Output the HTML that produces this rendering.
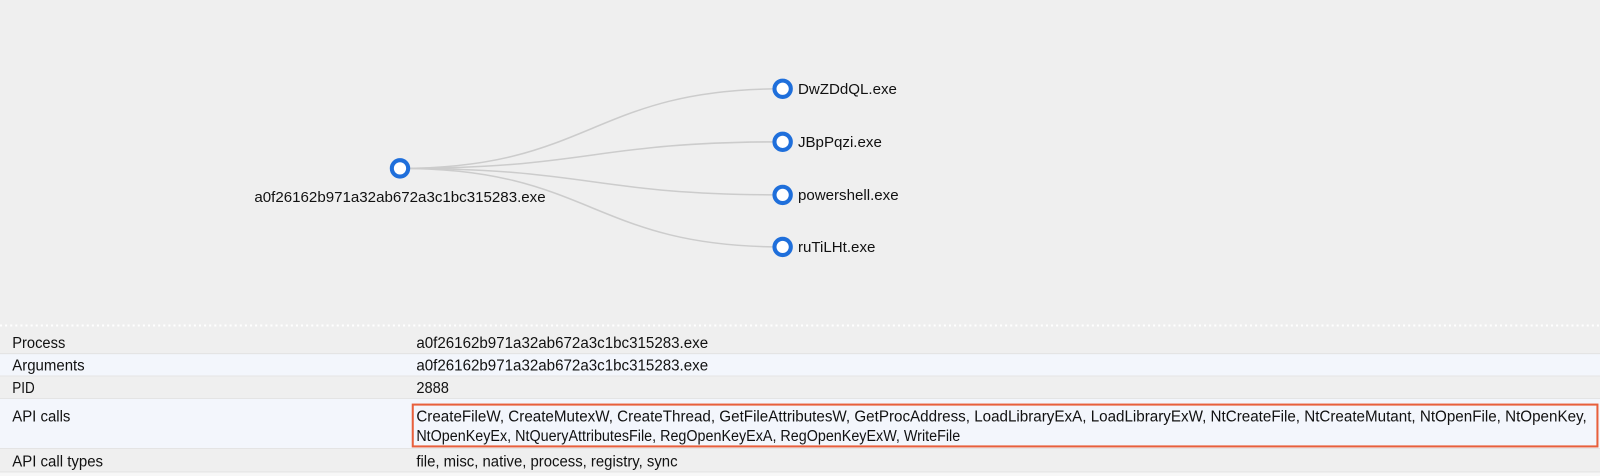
<!DOCTYPE html>
<html><head><meta charset="utf-8"><style>
html,body{margin:0;padding:0;background:#efefef;}
svg{display:block}
</style></head><body>
<svg width="1600" height="476" xmlns="http://www.w3.org/2000/svg" font-family="Liberation Sans, sans-serif">
<rect width="1600" height="476" fill="#efefef"/>
<g transform="scale(1.0204)">
<g fill="none" stroke="#cccccc" stroke-width="1.5">
<path d="M392 165 C580 165 580 87 767 87"/>
<path d="M392 165 C580 165 580 139 767 139"/>
<path d="M392 165 C580 165 580 191 767 191"/>
<path d="M392 165 C580 165 580 242 767 242"/>
</g>
<g fill="#fff" stroke="#1f6fdb" stroke-width="4">
<circle cx="392" cy="165" r="8"/>
<circle cx="767" cy="87" r="8"/>
<circle cx="767" cy="139" r="8"/>
<circle cx="767" cy="191" r="8"/>
<circle cx="767" cy="242" r="8"/>
</g>
<g font-size="14.8" fill="#111">
<text x="392" y="198" text-anchor="middle">a0f26162b971a32ab672a3c1bc315283.exe</text>
<text x="782" y="92">DwZDdQL.exe</text>
<text x="782" y="144">JBpPqzi.exe</text>
<text x="782" y="196">powershell.exe</text>
<text x="782" y="247">ruTiLHt.exe</text>
</g>
<line x1="0" y1="319" x2="1600" y2="319" stroke="#fff" stroke-width="2" stroke-dasharray="2 3"/>
<rect x="0" y="347" width="1600" height="21" fill="#f3f6fc"/>
<rect x="0" y="391" width="1600" height="48" fill="#f3f6fc"/>
<g stroke="#e4e4e4" stroke-width="1">
<line x1="0" y1="346.5" x2="1600" y2="346.5"/>
<line x1="0" y1="368.5" x2="1600" y2="368.5"/>
<line x1="0" y1="390.5" x2="1600" y2="390.5"/>
<line x1="0" y1="439.5" x2="1600" y2="439.5"/>
<line x1="0" y1="462.5" x2="1600" y2="462.5"/>
</g>
<rect x="0" y="463" width="1600" height="13" fill="#f7f7f7"/>
<rect x="404.5" y="396.5" width="1161" height="41" fill="none" stroke="#e8603c" stroke-width="2"/>
<g font-size="15.5" fill="#111">
<text x="12" y="341" textLength="52" lengthAdjust="spacingAndGlyphs">Process</text>
<text x="12" y="363" textLength="71" lengthAdjust="spacingAndGlyphs">Arguments</text>
<text x="12" y="385" textLength="22" lengthAdjust="spacingAndGlyphs">PID</text>
<text x="12" y="413" textLength="57" lengthAdjust="spacingAndGlyphs">API calls</text>
<text x="12" y="457" textLength="89" lengthAdjust="spacingAndGlyphs">API call types</text>
<text x="408" y="341" textLength="286" lengthAdjust="spacingAndGlyphs">a0f26162b971a32ab672a3c1bc315283.exe</text>
<text x="408" y="363" textLength="286" lengthAdjust="spacingAndGlyphs">a0f26162b971a32ab672a3c1bc315283.exe</text>
<text x="408" y="385" textLength="32" lengthAdjust="spacingAndGlyphs">2888</text>
<text x="408" y="413" textLength="1147" lengthAdjust="spacingAndGlyphs">CreateFileW, CreateMutexW, CreateThread, GetFileAttributesW, GetProcAddress, LoadLibraryExA, LoadLibraryExW, NtCreateFile, NtCreateMutant, NtOpenFile, NtOpenKey,</text>
<text x="408" y="432" textLength="533" lengthAdjust="spacingAndGlyphs">NtOpenKeyEx, NtQueryAttributesFile, RegOpenKeyExA, RegOpenKeyExW, WriteFile</text>
<text x="408" y="457" textLength="256" lengthAdjust="spacingAndGlyphs">file, misc, native, process, registry, sync</text>
</g>
</g>
</svg>
</body></html>
